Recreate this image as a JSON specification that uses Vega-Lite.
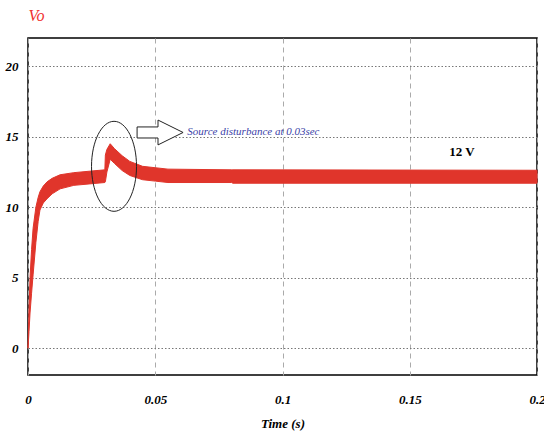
{
  "$schema": "https://vega.github.io/schema/vega-lite/v6.json",
  "width": 509,
  "height": 337,
  "autosize": "none",
  "padding": {"left": 28, "top": 38, "right": 7, "bottom": 66},
  "background": "white",
  "config": {
    "view": {"stroke": "black", "strokeWidth": 1.5},
    "font": "Liberation Serif"
  },
  "layer": [
    {
      "data": {"values": [
        {"t": 0, "lo": 0, "hi": 0},
        {"t": 0.0004, "lo": 1.2, "hi": 2.8},
        {"t": 0.0008, "lo": 2.5, "hi": 5.0},
        {"t": 0.0014, "lo": 3.9, "hi": 7.0},
        {"t": 0.002, "lo": 5.2, "hi": 8.5},
        {"t": 0.0031, "lo": 7.5, "hi": 10.0},
        {"t": 0.004, "lo": 9.0, "hi": 10.7},
        {"t": 0.0047, "lo": 9.8, "hi": 11.1},
        {"t": 0.006, "lo": 10.3, "hi": 11.5},
        {"t": 0.0075, "lo": 10.6, "hi": 11.8},
        {"t": 0.0095, "lo": 10.95, "hi": 12.05},
        {"t": 0.0126, "lo": 11.3, "hi": 12.3},
        {"t": 0.018, "lo": 11.55, "hi": 12.45},
        {"t": 0.024, "lo": 11.65, "hi": 12.55},
        {"t": 0.0302, "lo": 11.75, "hi": 12.65},
        {"t": 0.0304, "lo": 11.8, "hi": 13.7},
        {"t": 0.031, "lo": 12.5, "hi": 14.1},
        {"t": 0.0323, "lo": 13.4, "hi": 14.5},
        {"t": 0.034, "lo": 13.1, "hi": 14.15},
        {"t": 0.037, "lo": 12.6, "hi": 13.65},
        {"t": 0.04, "lo": 12.25, "hi": 13.25},
        {"t": 0.045, "lo": 11.95, "hi": 12.9},
        {"t": 0.05, "lo": 11.85, "hi": 12.8},
        {"t": 0.055, "lo": 11.75, "hi": 12.7},
        {"t": 0.08, "lo": 11.75, "hi": 12.65},
        {"t": 0.0805, "lo": 11.7, "hi": 12.65},
        {"t": 0.2, "lo": 11.7, "hi": 12.62}
      ]},
      "mark": {"type": "area", "color": "#e0352b", "stroke": "#e0352b", "strokeWidth": 1},
      "encoding": {
        "x": {
          "field": "t", "type": "quantitative",
          "scale": {"domain": [0, 0.2], "nice": false, "zero": false},
          "axis": {
            "values": [0, 0.05, 0.1, 0.15, 0.2],
            "format": "~g",
            "title": "Time (s)",
            "titleFont": "Liberation Serif", "titleFontStyle": "italic", "titleFontWeight": "bold",
            "titleFontSize": 13, "titleColor": "black", "titlePadding": 11,
            "labelFont": "Liberation Serif", "labelFontStyle": "italic", "labelFontWeight": "bold",
            "labelFontSize": 13, "labelColor": "black", "labelPadding": 18,
            "labelFlush": false, "labelOverlap": false,
            "ticks": false, "domain": false,
            "grid": true, "gridColor": "#aaaaaa", "gridDash": [5, 4], "gridWidth": 1
          }
        },
        "y": {
          "field": "hi", "type": "quantitative",
          "scale": {"domain": [-1.9, 22], "nice": false, "zero": false},
          "axis": {
            "values": [0, 5, 10, 15, 20],
            "title": "Vo",
            "titleAngle": 0, "titleX": 0, "titleY": -23, "titleAlign": "left", "titleBaseline": "middle",
            "titleFont": "Liberation Serif", "titleFontStyle": "italic", "titleFontWeight": "normal",
            "titleFontSize": 16, "titleColor": "#f03030",
            "labelFont": "Liberation Serif", "labelFontStyle": "italic", "labelFontWeight": "bold",
            "labelFontSize": 13, "labelColor": "black", "labelPadding": 10,
            "ticks": false, "domain": false,
            "grid": true, "gridColor": "#777777", "gridDash": [1.5, 2], "gridWidth": 1
          }
        },
        "y2": {"field": "lo"}
      }
    },
    {
      "data": {"values": [{"t": 0.0338, "hi": 12.9}]},
      "mark": {
        "type": "point",
        "shape": "M-1,0A1,2,0,1,1,1,0A1,2,0,1,1,-1,0Z",
        "size": 2025,
        "filled": false,
        "stroke": "#222222",
        "strokeWidth": 1,
        "opacity": 1
      },
      "encoding": {
        "x": {"field": "t", "type": "quantitative"},
        "y": {"field": "hi", "type": "quantitative"}
      }
    },
    {
      "data": {"values": [{"t": 0.0519, "hi": 15.3}]},
      "mark": {
        "type": "point",
        "shape": "M-1,-0.24L-0.09,-0.24L-0.09,-0.54L1,0L-0.09,0.54L-0.09,0.24L-1,0.24Z",
        "size": 2116,
        "filled": true,
        "fill": "white",
        "stroke": "#222222",
        "strokeWidth": 1,
        "opacity": 1
      },
      "encoding": {
        "x": {"field": "t", "type": "quantitative"},
        "y": {"field": "hi", "type": "quantitative"}
      }
    },
    {
      "data": {"values": [{"t": 0.0626, "hi": 15.3, "label": "Source disturbance at 0.03sec"}]},
      "mark": {
        "type": "text", "align": "left", "baseline": "middle",
        "font": "Liberation Serif", "fontStyle": "italic", "fontSize": 11,
        "color": "#3b3fa8"
      },
      "encoding": {
        "x": {"field": "t", "type": "quantitative"},
        "y": {"field": "hi", "type": "quantitative"},
        "text": {"field": "label"}
      }
    },
    {
      "data": {"values": [{"t": 0.1705, "hi": 13.9, "label": "12 V"}]},
      "mark": {
        "type": "text", "align": "center", "baseline": "middle",
        "font": "Liberation Serif", "fontWeight": "bold", "fontSize": 13,
        "color": "black"
      },
      "encoding": {
        "x": {"field": "t", "type": "quantitative"},
        "y": {"field": "hi", "type": "quantitative"},
        "text": {"field": "label"}
      }
    }
  ]
}
